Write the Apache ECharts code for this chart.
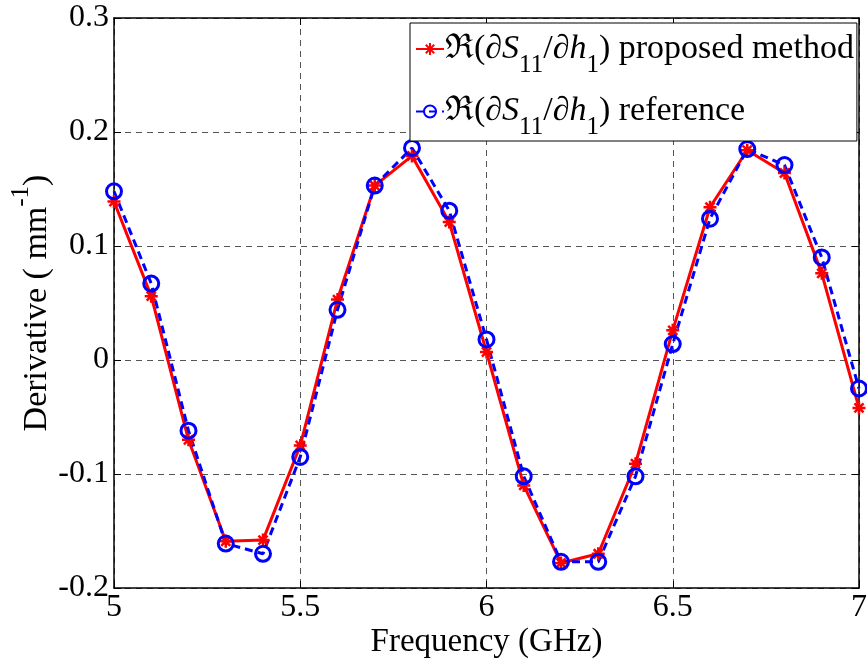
<!DOCTYPE html>
<html>
<head>
<meta charset="utf-8">
<script src="https://cdn.jsdelivr.net/npm/echarts@6/dist/echarts.min.js"></script>
<style>html,body{margin:0;padding:0;background:#fff;}#c{width:867px;height:662px;}</style>
</head>
<body>
<div id="c"></div>
<script>
const freq = [5.0, 5.1, 5.2, 5.3, 5.4, 5.5, 5.6, 5.7, 5.8, 5.9, 6.0, 6.1, 6.2, 6.3, 6.4, 6.5, 6.6, 6.7, 6.8, 6.9, 7.0];
const proposed = [0.139, 0.056, -0.070, -0.159, -0.158, -0.075, 0.053, 0.153, 0.179, 0.121, 0.007, -0.110, -0.178, -0.170, -0.091, 0.026, 0.134, 0.184, 0.164, 0.076, -0.042];
const reference = [0.148, 0.067, -0.062, -0.161, -0.170, -0.085, 0.044, 0.153, 0.186, 0.131, 0.018, -0.102, -0.177, -0.177, -0.102, 0.014, 0.124, 0.185, 0.171, 0.090, -0.025];
const xTickLabels = ['5', '5.5', '6', '6.5', '7'];
const yTickLabels = ['-0.2', '-0.1', '0', '0.1', '0.2', '0.3'];

const FONT = '"Liberation Serif", "Times New Roman", serif';
const chart = echarts.init(document.getElementById('c'), null, {renderer: 'canvas'});

function pairs(ys) { return freq.map((x, i) => [x, ys[i]]); }
const starPath = 'path://M0,-6L0,6M-6,0L6,0M-4.2,-4.2L4.2,4.2M-4.2,4.2L4.2,-4.2';

const legendRich = {
  r: {fontFamily: FONT, fontSize: 34, color: '#000'},
  i: {fontFamily: FONT, fontSize: 34, fontStyle: 'italic', color: '#000'},
  sub: {fontFamily: FONT, fontSize: 25, color: '#000', padding: [16, 0, -16, 0]}
};

chart.setOption({
  animation: false,
  backgroundColor: '#fff',
  grid: {left: 114, right: 8, top: 18, bottom: 74, containLabel: false, outerBoundsMode: 'none'},
  xAxis: [{
    type: 'value', min: 5, max: 7, interval: 0.5,
    name: 'Frequency (GHz)', nameLocation: 'middle', nameGap: 38, nameMoveOverlap: false,
    nameTextStyle: {fontFamily: FONT, fontSize: 33, color: '#000'},
    axisLine: {show: true, onZero: false, lineStyle: {color: '#000', width: 1.5}},
    axisTick: {show: true, inside: true, length: 7, lineStyle: {color: '#000'}},
    axisLabel: {fontFamily: FONT, fontSize: 32, color: '#000', margin: 4,
      formatter: v => xTickLabels[Math.round((v - 5) / 0.5)]},
    splitLine: {show: true, lineStyle: {color: '#555', type: [6, 5], width: 1}}
  }, {
    type: 'value', min: 5, max: 7, interval: 0.5, position: 'top',
    axisLine: {show: true, onZero: false, lineStyle: {color: '#000', width: 1.5}},
    axisTick: {show: true, inside: true, length: 7, lineStyle: {color: '#000'}},
    axisLabel: {show: false}, splitLine: {show: false}
  }],
  yAxis: [{
    type: 'value', min: -0.2, max: 0.3, interval: 0.1,
    name: '{t|Derivative ( mm}{sup|-1}{t|)}', nameLocation: 'middle', nameGap: 60, nameMoveOverlap: false,
    nameTextStyle: {rich: {
      t: {fontFamily: FONT, fontSize: 34, color: '#000'},
      sup: {fontFamily: FONT, fontSize: 25, color: '#000', padding: [-16, 0, 16, 0]}
    }},
    axisLine: {show: true, onZero: false, lineStyle: {color: '#000', width: 1.5}},
    axisTick: {show: true, inside: true, length: 7, lineStyle: {color: '#000'}},
    axisLabel: {fontFamily: FONT, fontSize: 32, color: '#000', margin: 5,
      formatter: v => yTickLabels[Math.round((v + 0.2) / 0.1)]},
    splitLine: {show: true, lineStyle: {color: '#555', type: [6, 5], width: 1}}
  }, {
    type: 'value', min: -0.2, max: 0.3, interval: 0.1, position: 'right',
    axisLine: {show: true, onZero: false, lineStyle: {color: '#000', width: 1.5}},
    axisTick: {show: true, inside: true, length: 7, lineStyle: {color: '#000'}},
    axisLabel: {show: false}, splitLine: {show: false}
  }],
  legend: {
    left: 410, top: 23, orient: 'vertical',
    backgroundColor: '#fff', borderColor: '#000', borderWidth: 1,
    padding: [9, 3, 1, 5], itemGap: 17, itemWidth: 28, itemHeight: 15,
    textStyle: {fontFamily: FONT, fontSize: 34, color: '#000', padding: [0, 0, 0, -4], rich: legendRich},
    formatter: function (name) {
      const tail = name === 'proposed' ? ') proposed method' : ') reference';
      return '{r|ℜ(∂}{i|S}{sub|11}{r|/∂}{i|h}{sub|1}{r|' + tail + '}';
    },
    data: ['proposed', 'reference']
  },
  series: [{
    name: 'proposed', type: 'line', data: pairs(proposed), clip: false,
    symbol: starPath, symbolSize: 13,
    itemStyle: {color: '#ff0000', borderColor: '#ff0000', borderWidth: 2.5},
    lineStyle: {color: '#ff0000', width: 3}
  }, {
    name: 'reference', type: 'line', data: pairs(reference), clip: false,
    symbol: 'circle', symbolSize: 15,
    itemStyle: {color: 'rgba(0,0,0,0)', borderColor: '#0000ff', borderWidth: 3},
    lineStyle: {color: '#0000ff', width: 3, type: [8, 5]}
  }]
});
</script>
</body>
</html>
